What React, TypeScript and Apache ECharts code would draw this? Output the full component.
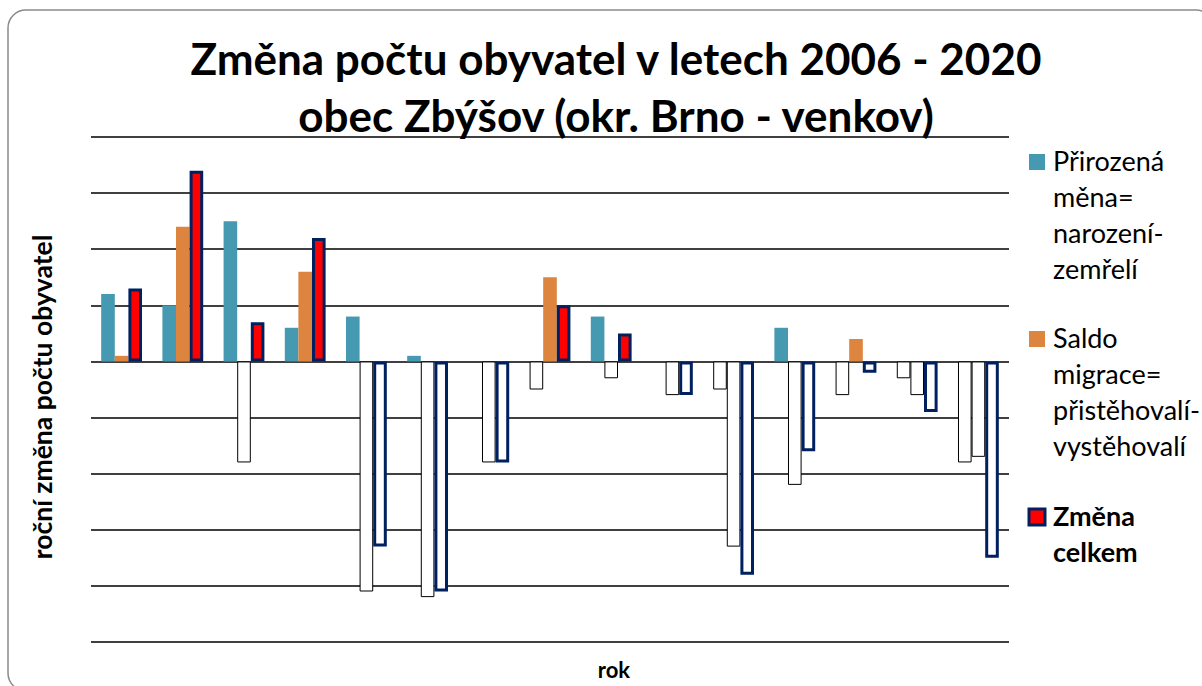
import React, { useEffect, useRef } from "react";
import * as echarts from "echarts";

const years = ["2006", "2007", "2008", "2009", "2010", "2011", "2012", "2013", "2014", "2015", "2016", "2017", "2018", "2019", "2020"];
const prirozenaMena = [12, 10, 25, 6, 8, 1, 0, -5, 8, 0, -5, 6, -6, -3, -18];
const saldoMigrace = [1, 24, -18, 16, -41, -42, -18, 15, -3, -6, -33, -22, 4, -6, -17];
const zmenaCelkem = [13, 34, 7, 22, -33, -41, -18, 10, 5, -6, -38, -16, -2, -9, -35];
const yMin = -50;
const yMax = 40;
const yStep = 10;

const seriesNames = [
  "Přirozená měna= narození-zemřelí",
  "Saldo migrace= přistěhovalí-vystěhovalí",
  "Změna celkem",
];
const legendTexts = [
  "Přirozená\nměna=\nnarození-\nzemřelí",
  "Saldo\nmigrace=\npřistěhovalí-\nvystěhovalí",
  "Změna\ncelkem",
];
const titleText = "Změna počtu obyvatel v letech 2006 - 2020\nobec Zbýšov (okr. Brno - venkov)";
const yName = "roční změna počtu obyvatel";
const xName = "rok";

const TEAL = "#4599B1";
const ORANGE = "#DD843E";
const RED = "#FF0000";
const NAVY = "#002060";
const FONT = "Lato";

function invertNeg(values: number[], negBorder: string, negWidth: number) {
  return values.map((v) =>
    v < 0
      ? { value: v, itemStyle: { color: "#ffffff", borderColor: negBorder, borderWidth: negWidth } }
      : { value: v }
  );
}

export default function App() {
  const ref = useRef<HTMLDivElement>(null);
  useEffect(() => {
    if (!ref.current) return;
    const chart = echarts.init(ref.current, null, { renderer: "svg" });
    const legendTops = [142, 319, 497];
    const legendColors = [TEAL, ORANGE, RED];
    const legendGraphics: any[] = [];
    legendTexts.forEach((t, i) => {
      legendGraphics.push({
        type: "rect",
        shape: { x: 1029, y: legendTops[i] + 12, width: 16, height: 16 },
        style: i === 2 ? { fill: RED, stroke: NAVY, lineWidth: 3 } : { fill: legendColors[i] },
      });
      legendGraphics.push({
        type: "text",
        x: 1053,
        y: legendTops[i],
        style: {
          text: t,
          fill: "#000",
          fontFamily: FONT,
          fontSize: 27,
          fontWeight: i === 2 ? "bold" : "normal",
          lineHeight: 36,
          verticalAlign: "top",
        },
      });
    });
    chart.setOption({
      animation: false,
      backgroundColor: "#ffffff",
      title: {
        text: titleText,
        left: 611,
        top: 24,
        textAlign: "center",
        textStyle: { fontFamily: FONT, fontSize: 44, fontWeight: "bold", color: "#000", lineHeight: 57 },
      },
      grid: { left: 91, top: 137, width: 918, height: 505 },
      xAxis: {
        type: "category",
        data: years,
        name: xName,
        nameLocation: "middle",
        nameGap: 16,
        nameTextStyle: { fontFamily: FONT, fontSize: 22, fontWeight: "bold", color: "#000", padding: [0, 0, 0, 128] },
        axisLine: { show: false, onZero: false },
        axisTick: { show: false },
        axisLabel: { show: false },
        splitLine: { show: false },
      },
      yAxis: {
        type: "value",
        min: yMin,
        max: yMax,
        interval: yStep,
        name: yName,
        nameLocation: "middle",
        nameRotate: 90,
        nameGap: 36,
        nameTextStyle: { fontFamily: FONT, fontSize: 26.5, fontWeight: "bold", color: "#000", padding: [0, 15, 0, 0] },
        axisLine: { show: false },
        axisTick: { show: false },
        axisLabel: { show: false },
        splitLine: { show: true, lineStyle: { color: "#000", width: 1.5 } },
      },
      series: [
        {
          type: "bar",
          name: seriesNames[0],
          data: invertNeg(prirozenaMena, "#000", 1),
          itemStyle: { color: TEAL },
          barGap: "0%",
          barCategoryGap: "33.3%",
        },
        {
          type: "bar",
          name: seriesNames[1],
          data: invertNeg(saldoMigrace, "#000", 1),
          itemStyle: { color: ORANGE },
          barGap: "0%",
          barCategoryGap: "33.3%",
        },
        {
          type: "bar",
          name: seriesNames[2],
          data: invertNeg(zmenaCelkem, NAVY, 3),
          itemStyle: { color: RED, borderColor: NAVY, borderWidth: 3 },
          barGap: "0%",
          barCategoryGap: "33.3%",
        },
      ],
      graphic: [
        {
          type: "rect",
          shape: { x: 8, y: 10, width: 1206, height: 681, r: 18 },
          style: { fill: "none", stroke: "#8a8a8a", lineWidth: 1.5 },
          z: 100,
        },
        ...legendGraphics,
      ],
    });
    return () => chart.dispose();
  }, []);
  return <div ref={ref} style={{ position: "absolute", left: 0, top: 0, width: 1202, height: 686 }} />;
}
